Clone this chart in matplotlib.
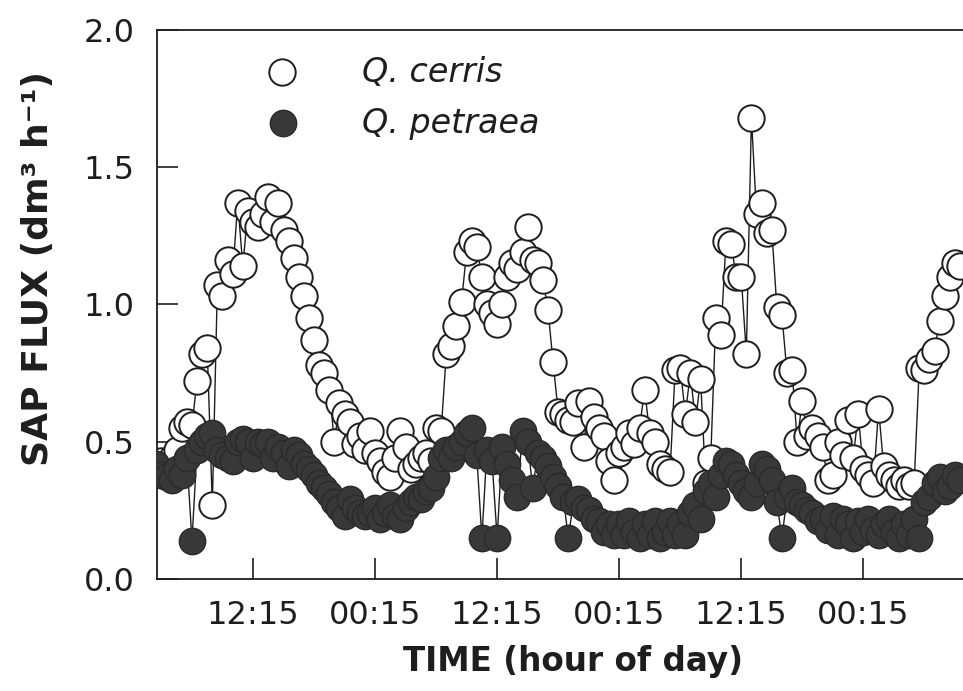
import numpy as np
import matplotlib.pyplot as plt

plt.rcParams['font.family'] = ['DejaVu Sans']

# hours relative to the first 12:15 mark, half-hourly readings
hours = np.arange(-9.5, 70.0, 0.5)

q_cerris = [
    0.42, 0.43, 0.42, 0.44, 0.47, 0.55, 0.57, 0.56, 0.72, 0.82,
    0.84, 0.27, 1.07, 1.03, 1.16, 1.11, 1.37, 1.14, 1.34, 1.30,
    1.28, 1.33, 1.39, 1.30, 1.37, 1.27, 1.23, 1.17, 1.10, 1.03,
    0.95, 0.87, 0.78, 0.75, 0.69, 0.50, 0.64, 0.60, 0.57, 0.49,
    0.52, 0.47, 0.54, 0.46, 0.43, 0.39, 0.37, 0.44, 0.54, 0.48,
    0.40, 0.42, 0.44, 0.46, 0.43, 0.55, 0.54, 0.82, 0.85, 0.92,
    1.01, 1.19, 1.23, 1.21, 1.10, 1.00, 0.97, 0.93, 1.00, 1.10,
    1.15, 1.13, 1.19, 1.28, 1.16, 1.15, 1.09, 0.98, 0.79, 0.61,
    0.60, 0.58, 0.57, 0.64, 0.48, 0.65, 0.59, 0.55, 0.52, 0.43,
    0.36, 0.46, 0.48, 0.53, 0.49, 0.55, 0.69, 0.53, 0.50, 0.42,
    0.40, 0.39, 0.76, 0.77, 0.60, 0.75, 0.57, 0.73, 0.35, 0.44,
    0.95, 0.89, 1.23, 1.22, 1.10, 1.10, 0.82, 1.68, 1.33, 1.37,
    1.26, 1.27, 0.99, 0.96, 0.75, 0.76, 0.50, 0.65, 0.52, 0.55,
    0.52, 0.48, 0.36, 0.38, 0.50, 0.45, 0.58, 0.44, 0.60, 0.40,
    0.38, 0.35, 0.62, 0.41, 0.38, 0.36, 0.34, 0.36, 0.34, 0.35,
    0.77, 0.76, 0.80, 0.83, 0.94, 1.03, 1.10, 1.15, 1.14,
]

q_petraea = [
    0.42, 0.38, 0.37, 0.36, 0.40, 0.38, 0.44, 0.14, 0.47, 0.50,
    0.52, 0.53, 0.47, 0.45, 0.44, 0.43, 0.50, 0.51, 0.50, 0.44,
    0.50, 0.49, 0.50, 0.44, 0.48, 0.46, 0.41, 0.47, 0.45, 0.42,
    0.40, 0.38, 0.35, 0.33, 0.31, 0.28, 0.26, 0.23, 0.29, 0.26,
    0.24, 0.23, 0.24, 0.26, 0.22, 0.24, 0.27, 0.23, 0.22, 0.26,
    0.28, 0.30, 0.29, 0.32, 0.33, 0.37, 0.44, 0.47, 0.44, 0.48,
    0.50, 0.53, 0.55, 0.45, 0.15, 0.47, 0.43, 0.15, 0.48, 0.42,
    0.36, 0.30, 0.54, 0.50, 0.33, 0.46, 0.44, 0.41, 0.37, 0.34,
    0.30, 0.15, 0.28, 0.29, 0.26, 0.25, 0.22, 0.21, 0.17, 0.20,
    0.16, 0.20, 0.16, 0.21, 0.17, 0.15, 0.20, 0.16, 0.21, 0.15,
    0.17, 0.21, 0.16, 0.20, 0.16, 0.24, 0.27, 0.22, 0.32, 0.35,
    0.30, 0.38, 0.43, 0.42, 0.38, 0.35, 0.32, 0.30, 0.35, 0.42,
    0.40, 0.36, 0.28, 0.15, 0.30, 0.33, 0.28, 0.27, 0.25, 0.24,
    0.21, 0.22, 0.18, 0.23, 0.16, 0.22, 0.20, 0.15, 0.21, 0.17,
    0.22, 0.18, 0.16, 0.20, 0.22, 0.17, 0.15, 0.20, 0.16, 0.22,
    0.15, 0.28, 0.30, 0.35, 0.37, 0.32, 0.34, 0.38, 0.36,
]

tick_hours = [0, 12, 24, 36, 48, 60]
tick_labels = ['12:15', '00:15', '12:15', '00:15', '12:15', '00:15']

ink = '#1e1e1e'
dark = '#383838'
fig = plt.figure(figsize=(9.63, 6.91), dpi=100)
ax = fig.add_axes([0.163, 0.162, 0.837, 0.795])

ax.plot(hours, q_cerris, color=ink, lw=1.0, marker='o', ms=19,
        mfc='white', mec=ink, mew=1.4, zorder=2)
ax.plot(hours, q_petraea, color=ink, lw=1.0, marker='o', ms=19,
        mfc=dark, mec='#2a2a2a', mew=1.0, zorder=3)

ax.set_xlim(-9.44, 69.8)
ax.set_ylim(0, 2.0)
ax.set_xticks(tick_hours)
ax.set_xticklabels(tick_labels)
ax.set_yticks([0.0, 0.5, 1.0, 1.5, 2.0])
ax.set_yticklabels(['0.0', '0.5', '1.0', '1.5', '2.0'])
ax.tick_params(axis='both', direction='in', length=15, width=1.2,
               labelsize=23, colors=ink)
ax.tick_params(axis='y', pad=16)
ax.tick_params(axis='x', pad=15)
ax.spines['right'].set_visible(False)
for s in ['left', 'bottom', 'top']:
    ax.spines[s].set_linewidth(1.3)
    ax.spines[s].set_color(ink)

fig.text(573 / 963, 1 - 662 / 691, 'TIME (hour of day)', fontsize=23.5,
         fontweight='bold', color=ink, ha='center', va='center')
fig.text(38 / 963, 1 - 268 / 691, 'SAP FLUX (dm³ h⁻¹)', fontsize=26,
         fontweight='bold', color=ink, ha='center', va='center', rotation=90)

# legend
ax.plot([0.155], [0.923], transform=ax.transAxes, ls='none', marker='o',
        ms=19, mfc='white', mec=ink, mew=1.4, clip_on=False)
ax.plot([0.156], [0.830], transform=ax.transAxes, ls='none', marker='o',
        ms=19, mfc=dark, mec='#2a2a2a', mew=1.0, clip_on=False)
ax.text(0.254, 0.923, 'Q. cerris', transform=ax.transAxes, fontsize=24,
        style='italic', color=ink, va='center', ha='left')
ax.text(0.254, 0.830, 'Q. petraea', transform=ax.transAxes, fontsize=24,
        style='italic', color=ink, va='center', ha='left')

fig.savefig('out.png', dpi=100)
